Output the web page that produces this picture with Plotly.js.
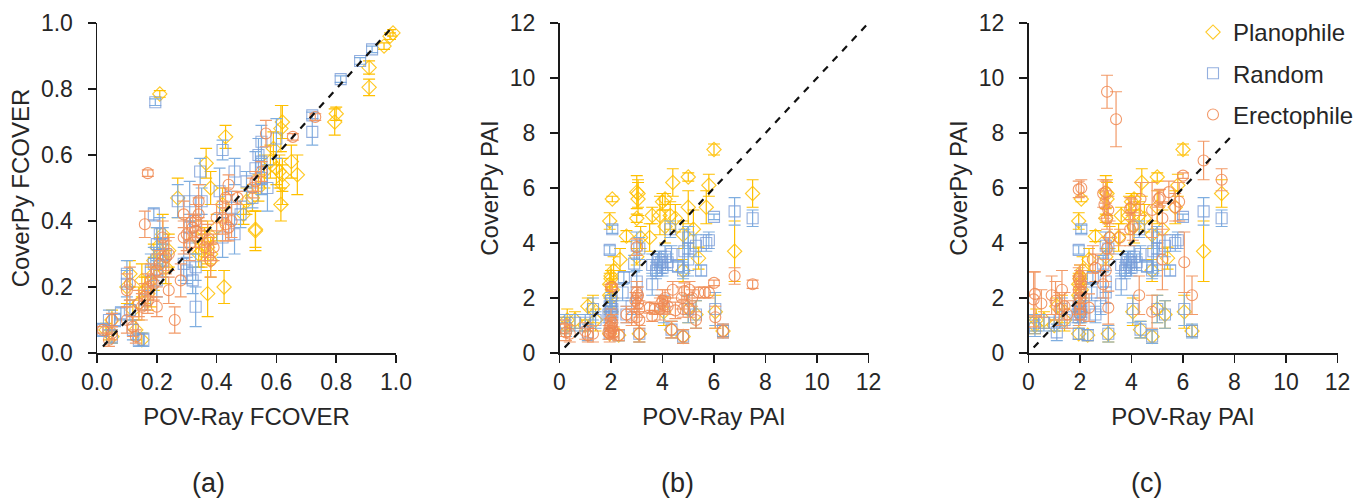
<!DOCTYPE html>
<html><head><meta charset="utf-8">
<script src="https://cdn.plot.ly/plotly-3.0.1.min.js"></script>
<style>html,body{margin:0;padding:0;background:#fff}#c{width:1355px;height:498px}</style></head>
<body><div id="c"></div>
<script>
// each row: POV-Ray value, CoverPy value, error
const planoA=[[.99,.97,.01],[.98,.96,.01],[.96,.93,.01],[.91,.865,.02],[.91,.805,.025],[.80,.725,.02],[.795,.70,.04],[.62,.70,.05],[.615,.68,.07],[.43,.655,.035],[.21,.785,.01],[.365,.575,.045],[.67,.54,.06],[.62,.51,.06],[.615,.45,.05],[.53,.37,.06],[.53,.375,.055],[.37,.18,.07],[.425,.20,.05],[.38,.28,.05],[.37,.32,.05],[.6,.56,.05],[.58,.58,.05],[.61,.55,.05],[.62,.54,.05],[.65,.58,.05],[.52,.47,.04],[.5,.46,.04],[.49,.42,.03],[.54,.5,.04],[.42,.45,.05],[.36,.33,.05],[.34,.30,.04],[.38,.5,.05],[.40,.38,.04],[.27,.47,.06],[.22,.36,.06],[.24,.31,.05],[.22,.28,.05],[.2,.32,.06],[.19,.28,.05],[.18,.2,.06],[.17,.18,.05],[.14,.15,.05],[.15,.22,.05],[.12,.13,.03],[.1,.2,.05],[.11,.24,.04],[.05,.1,.03],[.04,.06,.02],[.03,.07,.02],[.05,.05,.02],[.13,.07,.03],[.15,.04,.02],[.33,.35,.05],[.35,.31,.05],[.37,.35,.05],[.38,.3,.05],[.21,.3,.05],[.23,.26,.05],[.19,.24,.05],[.16,.19,.04],[.59,.62,.05],[.56,.55,.05]];
const randomA=[[.92,.92,.01],[.88,.885,.01],[.815,.83,.01],[.72,.72,.01],[.72,.67,.04],[.195,.76,.01],[.42,.615,.03],[.6,.65,.06],[.54,.6,.05],[.55,.64,.05],[.55,.58,.07],[.57,.5,.07],[.345,.55,.04],[.46,.55,.04],[.41,.49,.07],[.27,.46,.05],[.31,.46,.06],[.19,.42,.02],[.46,.36,.06],[.42,.35,.06],[.48,.42,.04],[.5,.52,.03],[.52,.47,.03],[.35,.46,.04],[.31,.38,.04],[.32,.22,.04],[.33,.26,.04],[.3,.25,.04],[.33,.14,.06],[.22,.33,.05],[.2,.33,.05],[.19,.27,.05],[.22,.28,.05],[.2,.22,.05],[.1,.24,.04],[.1,.21,.04],[.11,.13,.03],[.08,.12,.02],[.06,.1,.02],[.04,.1,.03],[.02,.07,.02],[.05,.05,.02],[.12,.07,.03],[.155,.04,.02],[.14,.04,.02],[.16,.16,.03],[.21,.36,.05],[.23,.3,.05],[.18,.25,.05],[.31,.35,.05],[.33,.4,.05],[.29,.27,.05],[.55,.53,.05],[.53,.56,.05],[.45,.44,.05]];
const erectA=[[.73,.715,.01],[.655,.655,.01],[.565,.665,.04],[.17,.545,.01],[.16,.39,.04],[.44,.51,.03],[.43,.47,.03],[.47,.47,.02],[.26,.10,.04],[.24,.19,.04],[.2,.14,.03],[.38,.28,.05],[.39,.32,.04],[.4,.41,.04],[.29,.35,.05],[.3,.36,.05],[.34,.46,.05],[.33,.40,.05],[.32,.38,.04],[.35,.36,.04],[.36,.32,.04],[.29,.42,.04],[.28,.22,.05],[.24,.3,.05],[.22,.35,.05],[.21,.27,.04],[.2,.25,.05],[.18,.22,.05],[.17,.2,.04],[.16,.17,.04],[.1,.19,.05],[.11,.21,.05],[.14,.15,.04],[.1,.1,.04],[.12,.08,.03],[.13,.05,.02],[.05,.1,.02],[.02,.07,.01],[.04,.04,.02],[.05,.06,.02],[.45,.4,.05],[.44,.38,.04],[.53,.52,.03],[.55,.55,.03],[.52,.5,.03],[.33,.37,.05],[.31,.33,.05],[.34,.42,.05],[.37,.34,.05],[.19,.21,.05],[.17,.16,.04],[.15,.14,.04],[.23,.29,.05],[.42,.41,.05],[.43,.39,.05]];
const planoPAI=[[6,7.4,.2],[5,6.4,.15],[4.4,6.2,.5],[7.5,5.8,.5],[2.05,5.6,.1],[3,5.85,.6],[3.05,5.8,.5],[3.05,5.6,.6],[3,4.9,.15],[1.95,4.8,.3],[5.8,6.1,.4],[5.7,5.3,.6],[5,5.3,.6],[4,5.5,.3],[4.1,5.6,.2],[3.6,5,.3],[3.9,5,.7],[4.3,5,.5],[4.5,4.9,.5],[4.1,4.6,.6],[5.2,4.5,.7],[4.8,4.3,.5],[2.6,4.25,.2],[3.5,4.2,.5],[3.15,4.2,.4],[6.8,3.7,1.1],[5.4,3.45,.4],[2.35,3.4,.4],[2.1,3,.5],[2,2.8,.4],[1.95,2.5,.4],[2,2.7,.3],[3,3.5,.3],[1.3,1.6,.5],[1.1,1.7,.3],[1.4,1.2,.4],[.6,1.2,.3],[.3,1.2,.4],[.25,1,.3],[1,1,.2],[6.05,1.5,.6],[5,1.6,.5],[4.05,1.5,.5],[5.3,1.4,.5],[4.8,.6,.25],[4.35,.85,.3],[6.35,.8,.2],[3.1,.7,.3],[2.3,.65,.2],[1.95,.7,.2],[4.8,3,.4],[2,1.5,.4],[2.05,2.3,.4],[1.95,2.1,.4],[2,2,.3]];
const randomPAI=[[6,4.95,.1],[6.8,5.15,.5],[7.5,4.9,.3],[5.8,4.1,.3],[5.7,4,.3],[5.5,3,.2],[5.3,3.9,.4],[5,4.2,.4],[5,3.8,.8],[4.85,3.7,.8],[5,3.4,.6],[4.8,3,.3],[4.6,3.15,.2],[4.3,4.5,.3],[4.35,3.6,.3],[4.1,3.5,.4],[3.9,3.2,.3],[4,3.1,.3],[3.8,3.2,.4],[3.6,3.2,.4],[3.6,2.5,.4],[3.85,3.4,.3],[3,3.9,.5],[3.1,3.8,.4],[2.9,3.25,.3],[3,2.6,.4],[3,2.2,.4],[2.05,4.5,.15],[1.95,3.75,.15],[2.5,2.75,.2],[2.45,2.2,.3],[2,1.9,.3],[1.95,1.7,.3],[2,1.5,.3],[1.9,1.4,.3],[6.05,1.6,.6],[5.3,1.4,.5],[5,1.6,.5],[4.05,1.6,.5],[2.8,1.7,.3],[2.6,1.4,.3],[1.3,1.6,.4],[1.4,1.2,.3],[1,1.1,.3],[.6,1.1,.3],[.2,1.1,.3],[.25,.9,.3],[1.1,.75,.3],[4.35,.85,.3],[4.8,.6,.25],[6.35,.8,.25],[3.1,.7,.3],[2.3,.65,.2],[1.95,.7,.2],[2,1.8,.3],[2.05,1.6,.3],[1.95,1.3,.3],[2.05,1.4,.3],[3.95,3.3,.4],[3.75,3,.3],[4.2,3.3,.3]];
const erectB=[[6,2.55,.1],[6.8,2.8,.3],[7.5,2.5,.15],[5.8,2.2,.2],[5.65,2.2,.2],[5.4,2.2,.2],[5.15,2,.3],[4.85,2.25,.3],[5.05,2.3,.3],[4.75,2,.4],[4.4,2.3,.3],[4.1,2,.3],[4,1.9,.4],[3.9,1.6,.4],[4.2,1.7,.3],[4.5,1.55,.3],[4.8,1.6,.3],[5.05,1.6,.3],[6.05,1.3,.4],[5.3,1.2,.3],[4.35,.85,.3],[4.8,.6,.25],[6.35,.8,.25],[3.5,1.65,.2],[3.7,1.6,.2],[3.6,1.35,.2],[3,2.2,.4],[3,2,.4],[3.05,1.8,.3],[3.1,1.6,.3],[3,1.3,.3],[3.1,1.2,.3],[2.8,1.3,.3],[2.6,1.4,.3],[3.1,.7,.3],[2.3,.65,.2],[2,2.4,.1],[2.05,2.4,.1],[2,1.2,.4],[2,1,.3],[2,.8,.3],[1.9,.75,.25],[2.1,.75,.2],[1.3,.7,.3],[1.1,.65,.25],[1,.8,.3],[.4,.7,.3],[.25,.75,.3],[.2,.9,.3],[3,3.85,.3],[2.05,.9,.3],[1.95,.95,.3],[2.05,1.1,.3],[1.95,.7,.3],[3.05,2.1,.3],[2.95,1.9,.3],[3.95,1.8,.3],[4.05,1.75,.3]];
const erectC=[[3.05,9.5,.6],[3.4,8.5,1],[6.8,7,.7],[7.5,6.3,.4],[6,6.45,.1],[5.85,5.5,.7],[5.45,5.85,.4],[5.7,5.3,.5],[5.05,5.6,.3],[5.1,5.65,.3],[4.8,5.2,1],[5.2,4.9,.6],[4.35,5.6,.6],[4,5.3,.3],[3.95,5.25,.4],[4.05,4.6,.5],[3.95,4.5,.6],[3,5.85,.4],[2.9,5.8,.5],[2.95,5.4,.5],[3.1,5.2,.5],[3.05,4.9,.4],[1.95,5.95,.3],[2.05,6,.3],[3.55,4.2,.3],[3.15,4.2,.6],[3.05,3.8,.4],[2.5,3.4,.5],[2.6,3.1,.5],[6.05,3.3,1.1],[5.2,3.4,1.1],[4.3,2.1,.7],[4.8,1.5,.6],[6.35,2.1,.7],[3.1,1.65,.6],[2.35,1.65,.5],[2,2.8,.4],[2.05,2.5,.5],[1.95,2.3,.5],[2,2,.4],[1.95,1.8,.4],[2,1.6,.4],[2,1.4,.4],[.25,2.15,.8],[.2,1.95,1],[.5,1.8,.5],[.9,2.1,.7],[1.3,2.3,.7],[1.05,1.9,.7],[1.2,1.6,.6],[1.4,1.7,.5],[1.5,1.4,.5],[3,3,.4],[2.9,2.5,.5],[2,2.6,.4],[2.05,2.2,.4],[1.95,2.7,.4]];
const lineA=[.02,.98], lineB=[.2,12], lineC=[.2,8];
const seriesNames=['Planophile','Random','Erectophile'];
const xTitles=['POV-Ray FCOVER','POV-Ray PAI','POV-Ray PAI'];
const yTitles=['CoverPy FCOVER','CoverPy PAI','CoverPy PAI'];
const panelLabels=['(a)','(b)','(c)'];

const W=1355,H=498;
const FONT='"Liberation Sans",Arial,sans-serif', INK='#262626';
const styles=[
 {sym:'diamond-open',mk:'rgba(255,192,0,.85)',err:'#FFC000',size:11},
 {sym:'square-open',mk:'rgba(120,155,215,.8)',err:'#7FAEE0',size:11},
 {sym:'circle-open',mk:'rgba(240,135,80,.85)',err:'#F29A68',size:11}];
const panels=[
 {x:[97,396],range:[0,1],dtick:.2,fmt:'.1f',sets:[planoA,randomA,erectA],line:lineA,lx:208},
 {x:[559.5,868.5],range:[0,12],dtick:2,fmt:'d',sets:[planoPAI,randomPAI,erectB],line:lineB,lx:677},
 {x:[1028.5,1337.5],range:[0,12],dtick:2,fmt:'d',sets:[planoPAI,randomPAI,erectC],line:lineC,lx:1146}];
const traces=[];
const layout={width:W,height:H,margin:{l:0,r:0,t:0,b:0,autoexpand:false},paper_bgcolor:'#fff',plot_bgcolor:'#fff',
 font:{family:FONT,color:INK,size:24},showlegend:true,annotations:[],
 legend:{x:1193/W,y:1-10/H,xanchor:'left',yanchor:'top',bgcolor:'rgba(0,0,0,0)',font:{size:24,color:INK,family:FONT},
  traceorder:'grouped',tracegroupgap:7,itemwidth:30}};
panels.forEach((p,i)=>{
 const s=i?String(i+1):'';
 p.sets.forEach((d,k)=>{
  const st=styles[k];
  traces.push({type:'scatter',mode:'markers',xaxis:'x'+s,yaxis:'y'+s,name:seriesNames[k],legendgroup:seriesNames[k],
   showlegend:i===2,x:d.map(r=>r[0]),y:d.map(r=>r[1]),
   marker:{symbol:st.sym,size:st.size,color:st.mk,line:{width:1.1,color:st.mk}},
   error_y:{type:'data',array:d.map(r=>r[2]),visible:true,color:st.err,thickness:1.2,width:6},cliponaxis:false});
 });
 traces.push({type:'scatter',mode:'lines',xaxis:'x'+s,yaxis:'y'+s,x:p.line,y:p.line,showlegend:false,
  line:{color:'#111',width:2.2,dash:'7px,7px'},cliponaxis:false});
 const ax={showgrid:false,zeroline:false,showline:true,linecolor:'#1a1a1a',linewidth:1.5,ticks:'outside',ticklen:8,tickwidth:1.5,tickcolor:'#1a1a1a',
  range:p.range,dtick:p.dtick,tick0:0,tickformat:p.fmt,tickfont:{size:23,color:INK,family:FONT}};
 layout['xaxis'+s]=Object.assign({},ax,{domain:[p.x[0]/W,p.x[1]/W],anchor:'y'+s,title:{text:xTitles[i],font:{size:24,color:INK,family:FONT},standoff:14}});
 layout['yaxis'+s]=Object.assign({},ax,{domain:[1-353/H,1-23/H],anchor:'x'+s,automargin:true,ticklabelstandoff:10,title:{text:yTitles[i],font:{size:24,color:INK,family:FONT},standoff:4}});
 layout.annotations.push({text:panelLabels[i],xref:'paper',yref:'paper',x:p.lx/W,y:1-483/H,xanchor:'center',yanchor:'middle',showarrow:false,font:{size:27,color:INK,family:FONT}});
});
Plotly.newPlot('c',traces,layout,{displayModeBar:false,staticPlot:true});
</script></body></html>
